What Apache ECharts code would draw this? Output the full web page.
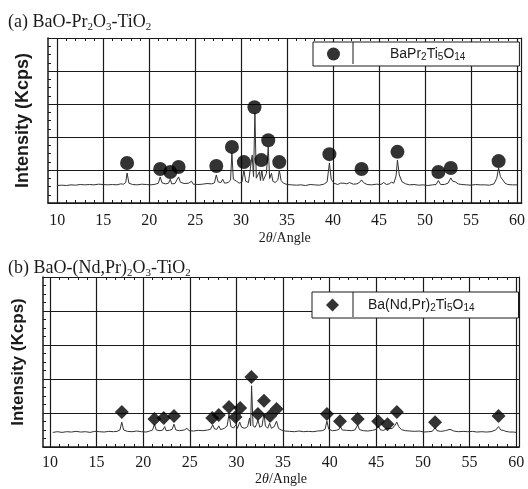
<!DOCTYPE html>
<html>
<head>
<meta charset="utf-8">
<script src="https://cdn.jsdelivr.net/npm/echarts@6/dist/echarts.min.js"></script>
<style>
html, body { margin: 0; padding: 0; background: #fff; }
#chart { width: 528px; height: 489px; }
</style>
</head>
<body>
<div id="chart"></div>
<script>
// tick labels on the 2θ axis
var xLabels = [10, 15, 20, 25, 30, 35, 40, 45, 50, 55, 60];
var degTicks = [];
for (var d = 10; d <= 60; d++) degTicks.push(d);

// (a) BaO-Pr2O3-TiO2 pattern, [2θ, intensity]
var patternA = [
  [10.0,0.53],[10.5,0.54],[11.0,0.53],[11.5,0.55],[12.0,0.54],[12.5,0.56],[13.0,0.55],[13.5,0.56],[14.0,0.55],[14.5,0.57],
  [15.0,0.56],[15.5,0.55],[16.0,0.56],[16.5,0.55],[16.9,0.58],[17.2,0.57],[17.45,0.62],[17.6,0.91],[17.8,0.6],[18.2,0.56],
  [18.7,0.55],[19.2,0.57],[19.7,0.56],[20.2,0.55],[20.7,0.57],[21.0,0.6],[21.2,0.79],[21.4,0.61],[21.8,0.58],[22.1,0.6],
  [22.3,0.72],[22.45,0.58],[22.8,0.59],[23.0,0.63],[23.2,0.79],[23.4,0.63],[23.8,0.59],[24.3,0.6],[24.6,0.66],[24.8,0.57],
  [25.3,0.56],[25.8,0.57],[26.3,0.59],[26.8,0.58],[27.1,0.61],[27.3,0.85],[27.5,0.64],[27.8,0.62],[28.0,0.72],[28.2,0.6],
  [28.6,0.62],[28.85,0.7],[29.0,1.52],[29.15,0.72],[29.5,0.66],[29.8,0.6],[30.1,0.64],[30.3,1.0],[30.5,0.66],[30.8,0.62],
  [31.0,0.66],[31.2,1.45],[31.35,0.8],[31.5,2.73],[31.65,0.75],[31.85,0.7],[32.0,0.95],[32.1,0.68],[32.25,1.0],[32.4,0.68],
  [32.6,0.7],[32.75,0.9],[32.95,1.7],[33.1,0.74],[33.3,0.9],[33.45,0.66],[33.7,0.62],[34.0,0.7],[34.15,1.0],[34.35,0.68],
  [34.6,0.6],[35.0,0.56],[35.5,0.55],[36.0,0.54],[36.5,0.55],[37.0,0.53],[37.5,0.56],[38.0,0.55],[38.5,0.54],[39.0,0.57],
  [39.35,0.64],[39.6,1.21],[39.8,0.72],[40.1,0.6],[40.5,0.56],[40.8,0.6],[41.0,0.66],[41.2,0.6],[41.5,0.58],[41.8,0.62],
  [42.2,0.57],[42.6,0.58],[42.9,0.63],[43.1,0.7],[43.3,0.62],[43.7,0.56],[44.2,0.55],[44.7,0.57],[45.2,0.56],[45.5,0.62],
  [45.8,0.56],[46.1,0.58],[46.35,0.63],[46.6,0.6],[46.85,0.82],[47.0,1.3],[47.2,0.85],[47.5,0.64],[47.9,0.58],[48.3,0.55],
  [48.8,0.56],[49.3,0.54],[49.8,0.55],[50.3,0.53],[50.8,0.55],[51.2,0.56],[51.45,0.68],[51.7,0.56],[52.1,0.56],[52.5,0.6],
  [52.8,0.76],[53.0,0.66],[53.3,0.64],[53.6,0.58],[54.0,0.56],[54.5,0.55],[55.0,0.54],[55.5,0.56],[56.0,0.55],[56.5,0.55],
  [57.0,0.54],[57.5,0.58],[57.8,0.75],[58.0,1.06],[58.2,0.8],[58.45,0.7],[58.7,0.6],[59.0,0.56],[59.5,0.55],[60.0,0.55]
];
// BaPr2Ti5O14 reflections marked in (a)
var markAngA = [17.6, 21.2, 22.3, 23.2, 27.3, 29.0, 30.3, 31.45, 32.2, 32.95, 34.15, 39.6, 43.1, 47.0, 51.45, 52.8, 58.0];
var markIntA = [1.21, 1.03, 0.94, 1.09, 1.12, 1.7, 1.24, 2.9, 1.3, 1.9, 1.24, 1.48, 1.03, 1.55, 0.94, 1.06, 1.27];

// (b) BaO-(Nd,Pr)2O3-TiO2 pattern
var patternB = [
  [10.3,0.43],[10.8,0.45],[11.3,0.43],[11.8,0.45],[12.3,0.44],[12.8,0.46],[13.3,0.44],[13.8,0.45],[14.3,0.43],[14.8,0.46],
  [15.3,0.45],[15.8,0.44],[16.3,0.46],[16.8,0.45],[17.2,0.46],[17.5,0.5],[17.7,0.73],[17.9,0.5],[18.3,0.46],[18.8,0.45],
  [19.3,0.47],[19.8,0.45],[20.3,0.44],[20.7,0.47],[21.0,0.5],[21.2,0.67],[21.4,0.5],[21.8,0.48],[22.1,0.5],[22.3,0.6],
  [22.45,0.48],[22.8,0.49],[23.1,0.52],[23.3,0.67],[23.5,0.5],[23.9,0.48],[24.4,0.5],[24.7,0.55],[24.9,0.48],[25.4,0.47],
  [25.9,0.49],[26.4,0.48],[26.9,0.5],[27.2,0.52],[27.45,0.65],[27.65,0.53],[27.9,0.52],[28.1,0.62],[28.3,0.51],[28.7,0.55],
  [29.0,0.62],[29.2,0.97],[29.4,0.6],[29.7,0.56],[29.95,0.66],[30.1,0.55],[30.35,0.73],[30.55,0.58],[30.9,0.55],[31.2,0.6],
  [31.4,0.85],[31.52,0.62],[31.62,1.8],[31.78,0.62],[32.0,0.58],[32.15,0.66],[32.3,0.8],[32.5,0.58],[32.75,0.62],[32.95,1.0],
  [33.1,0.62],[33.35,0.55],[33.55,0.7],[33.75,0.55],[34.05,0.6],[34.3,0.76],[34.5,0.55],[34.8,0.5],[35.2,0.47],[35.7,0.46],
  [36.2,0.45],[36.7,0.47],[37.2,0.45],[37.7,0.46],[38.2,0.45],[38.7,0.47],[39.2,0.48],[39.5,0.52],[39.7,0.76],[39.9,0.52],
  [40.3,0.48],[40.7,0.49],[41.0,0.52],[41.15,0.6],[41.35,0.5],[41.8,0.49],[42.3,0.48],[42.7,0.5],[43.0,0.65],[43.2,0.51],
  [43.6,0.48],[44.1,0.47],[44.6,0.49],[45.0,0.52],[45.2,0.62],[45.45,0.5],[45.8,0.49],[46.15,0.55],[46.35,0.5],[46.7,0.54],
  [47.0,0.64],[47.2,0.73],[47.4,0.6],[47.7,0.51],[48.1,0.48],[48.6,0.47],[49.1,0.46],[49.6,0.47],[50.1,0.44],[50.6,0.45],
  [51.0,0.46],[51.15,0.5],[51.3,0.57],[51.5,0.48],[51.9,0.46],[52.4,0.48],[52.9,0.52],[53.3,0.47],[53.8,0.45],[54.3,0.46],
  [54.8,0.45],[55.3,0.46],[55.8,0.44],[56.3,0.45],[56.8,0.44],[57.3,0.45],[57.8,0.5],[58.1,0.6],[58.35,0.5],[58.6,0.49],
  [58.9,0.46],[59.3,0.44],[59.7,0.44],[60.0,0.43]
];
// Ba(Nd,Pr)2Ti5O14 reflections marked in (b)
var markAngB = [17.7, 21.2, 22.2, 23.3, 27.4, 28.1, 29.2, 29.9, 30.4, 31.6, 32.3, 32.95, 33.6, 34.3, 39.7, 41.1, 43.0, 45.2, 46.2, 47.2, 51.3, 58.1];
var markIntB = [1.03, 0.82, 0.85, 0.91, 0.85, 0.94, 1.18, 0.88, 1.15, 2.06, 0.97, 1.36, 0.91, 1.12, 0.97, 0.76, 0.82, 0.76, 0.67, 1.03, 0.73, 0.91];

function pairs(xs, ys) {
  return xs.map(function (x, i) { return [x, ys[i]]; });
}

var serif = '"Liberation Serif", "Times New Roman", serif';
var sans = '"Liberation Sans", Arial, sans-serif';
var ink = '#1a1a1a';
var subTitle = { s: { fontSize: 11, lineHeight: 12, verticalAlign: 'bottom', fontFamily: serif } };
var subLegend = { s: { fontSize: 10, lineHeight: 10, verticalAlign: 'bottom', fontFamily: sans } };

function xAxes(gi, min, max, labelMargin, nameGap) {
  return [{
    gridIndex: gi, type: 'value', min: min, max: max, position: 'bottom',
    axisLine: { show: true, lineStyle: { color: ink, width: 1.5 } },
    axisTick: { show: false, customValues: xLabels },
    axisLabel: { customValues: xLabels, margin: labelMargin, color: ink, fontFamily: serif, fontSize: 16 },
    splitLine: { show: true, lineStyle: { color: ink, width: 1.2 } },
    name: '2{i|θ}/Angle', nameLocation: 'middle', nameGap: nameGap,
    nameTextStyle: { color: ink, fontFamily: serif, fontSize: 14, rich: { i: { fontStyle: 'italic', fontSize: 14, fontFamily: serif } } }
  }, {
    gridIndex: gi, type: 'value', min: min, max: max, position: 'bottom',
    axisLine: { show: false },
    axisTick: { show: true, inside: true, length: 3, customValues: degTicks, lineStyle: { color: ink } },
    axisLabel: { show: false }, splitLine: { show: false }
  }, {
    gridIndex: gi, type: 'value', min: min, max: max, position: 'top',
    axisLine: { show: true, lineStyle: { color: ink, width: 1.2 } },
    axisTick: { show: true, inside: true, length: 3, customValues: degTicks, lineStyle: { color: ink } },
    axisLabel: { show: false }, splitLine: { show: false }
  }];
}

function yAxes(gi, nameSize, nameGap) {
  return [{
    gridIndex: gi, type: 'value', min: 0, max: 5, interval: 1, position: 'left',
    axisLine: { show: true, lineStyle: { color: ink, width: 1.5 } },
    axisTick: { show: true, inside: true, length: 5, lineStyle: { color: ink } },
    minorTick: { show: true, splitNumber: 4, length: 3, lineStyle: { color: ink } },
    axisLabel: { show: false },
    splitLine: { show: true, lineStyle: { color: ink, width: 1.2 } },
    name: 'Intensity (Kcps)', nameLocation: 'middle', nameGap: nameGap,
    nameTextStyle: { color: ink, fontFamily: sans, fontWeight: 'bold', fontSize: nameSize }
  }, {
    gridIndex: gi, type: 'value', min: 0, max: 5, interval: 1, position: 'right',
    axisLine: { show: true, lineStyle: { color: ink, width: 1.2 } },
    axisTick: { show: true, inside: true, length: 4, lineStyle: { color: ink } },
    axisLabel: { show: false }, splitLine: { show: false }
  }];
}

var chart = echarts.init(document.getElementById('chart'));
chart.setOption({
  backgroundColor: '#fff',
  animation: false,
  title: [{
    text: '(a) BaO-Pr{s|2}O{s|3}-TiO{s|2}', left: 3, top: 6,
    textStyle: { color: ink, fontFamily: serif, fontWeight: 'normal', fontSize: 18, lineHeight: 22, rich: subTitle }
  }, {
    text: '(b) BaO-(Nd,Pr){s|2}O{s|3}-TiO{s|2}', left: 3, top: 252,
    textStyle: { color: ink, fontFamily: serif, fontWeight: 'normal', fontSize: 18, lineHeight: 22, rich: subTitle }
  }],
  legend: [{
    data: [{ name: 'BaPr2Ti5O14', icon: 'circle' }],
    left: 313, top: 42, itemWidth: 13, itemHeight: 13,
    padding: [4, 54, 4, 14],
    backgroundColor: '#fff', borderColor: ink, borderWidth: 1, borderRadius: 0,
    formatter: function () { return 'BaPr{s|2}Ti{s|5}O{s|14}'; },
    textStyle: { color: ink, fontFamily: sans, fontSize: 14, lineHeight: 16, padding: [0, 0, 0, 45], rich: subLegend }
  }, {
    data: [{ name: 'Ba(Nd,Pr)2Ti5O14', icon: 'diamond' }],
    left: 312, top: 292, itemWidth: 13, itemHeight: 13,
    padding: [5, 44, 5, 14],
    backgroundColor: '#fff', borderColor: ink, borderWidth: 1, borderRadius: 0,
    formatter: function () { return 'Ba(Nd,Pr){s|2}Ti{s|5}O{s|14}'; },
    textStyle: { color: ink, fontFamily: sans, fontSize: 14, lineHeight: 16, padding: [0, 0, 0, 24], rich: subLegend }
  }],
  graphic: [
    { type: 'line', shape: { x1: 353, y1: 42, x2: 353, y2: 64 }, style: { stroke: ink, lineWidth: 1 }, z: 100 },
    { type: 'line', shape: { x1: 353, y1: 292, x2: 353, y2: 317 }, style: { stroke: ink, lineWidth: 1 }, z: 100 }
  ],
  grid: [
    { left: 48, top: 38, width: 479, height: 165 },
    { left: 43, top: 277, width: 476, height: 170 }
  ],
  xAxis: xAxes(0, 9, 60.5, 10, 28).concat(xAxes(1, 9.25, 60.3, 8, 24)),
  yAxis: yAxes(0, 18, 16).concat(yAxes(1, 17, 16)),
  series: [{
    type: 'line', xAxisIndex: 0, yAxisIndex: 0, data: patternA,
    showSymbol: false, lineStyle: { color: '#333', width: 1 }, silent: true
  }, {
    name: 'BaPr2Ti5O14', type: 'scatter', xAxisIndex: 0, yAxisIndex: 0,
    data: pairs(markAngA, markIntA), symbol: 'circle', symbolSize: 14,
    itemStyle: { color: '#000' }, z: 5
  }, {
    type: 'line', xAxisIndex: 3, yAxisIndex: 2, data: patternB,
    showSymbol: false, lineStyle: { color: '#333', width: 1 }, silent: true
  }, {
    name: 'Ba(Nd,Pr)2Ti5O14', type: 'scatter', xAxisIndex: 3, yAxisIndex: 2,
    data: pairs(markAngB, markIntB), symbol: 'diamond', symbolSize: 14,
    itemStyle: { color: '#000' }, z: 5
  }]
});
</script>
</body>
</html>
